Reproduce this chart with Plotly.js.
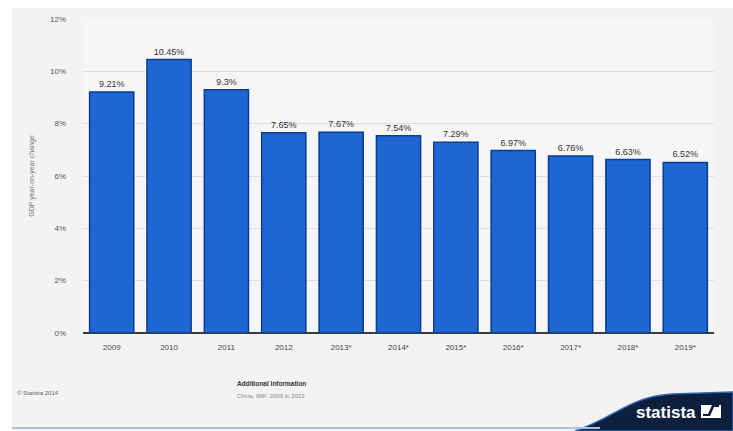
<!DOCTYPE html>
<html>
<head>
<meta charset="utf-8">
<script src="https://cdn.plot.ly/plotly-3.0.1.min.js"></script>
<style>html,body{margin:0;padding:0;background:#fff;}#chart{width:733px;height:431px;}</style>
</head>
<body>
<div id="chart"></div>
<script>
const years = ['2009','2010','2011','2012','2013*','2014*','2015*','2016*','2017*','2018*','2019*'];
const growth = [9.21, 10.45, 9.3, 7.65, 7.67, 7.54, 7.29, 6.97, 6.76, 6.63, 6.52];
const yTicks = [0, 2, 4, 6, 8, 10, 12];
const yTickText = ['0%', '2%', '4%', '6%', '8%', '10%', '12%'];

const W = 733, H = 431;
const L = 83, R = 19, T = 19, B = 98;
const pw = W - L - R, ph = H - T - B;
const px = x => (x - L) / pw;
const py = y => (H - B - y) / ph;

const swoosh = 'M ' + px(575) + ' ' + py(431) +
  ' C ' + px(615) + ' ' + py(418) + ', ' + px(628) + ' ' + py(397) + ', ' + px(672) + ' ' + py(394) +
  ' L ' + px(733) + ' ' + py(392) + ' L ' + px(733) + ' ' + py(431) + ' Z';

const trace = {
  type: 'bar',
  x: years,
  y: growth,
  text: growth.map(v => v + '%'),
  textposition: 'outside',
  cliponaxis: false,
  textfont: {family: 'Liberation Sans, Arial, sans-serif', size: 9, color: '#333'},
  marker: {color: '#1f66d2', line: {color: '#0b3c8f', width: 1.5}},
  hoverinfo: 'none'
};

const layout = {
  width: W, height: H,
  margin: {l: L, r: R, t: T, b: B},
  paper_bgcolor: '#f3f3f3',
  plot_bgcolor: '#f6f6f6',
  bargap: 0.23,
  showlegend: false,
  font: {family: 'Liberation Sans, Arial, sans-serif', color: '#444'},
  xaxis: {
    type: 'category',
    tickfont: {size: 8, color: '#444'},
    showgrid: false,
    ticks: '',
    ticklabelstandoff: 8,
    fixedrange: true
  },
  yaxis: {
    range: [0, 12],
    tickvals: yTicks,
    ticktext: yTickText,
    tickfont: {size: 8, color: '#555'},
    gridcolor: '#dedede',
    gridwidth: 1,
    zeroline: true,
    zerolinecolor: '#3a3a3a',
    zerolinewidth: 1.5,
    ticks: '',
    ticklabelstandoff: 16,
    title: {text: 'GDP year-on-year change', font: {size: 7, color: '#777'}, standoff: 14},
    fixedrange: true
  },
  shapes: [
    {type: 'rect', xref: 'paper', yref: 'paper', x0: px(0), x1: px(733), y0: py(0), y1: py(8), fillcolor: '#ffffff', line: {width: 0}, layer: 'below'},
    {type: 'rect', xref: 'paper', yref: 'paper', x0: px(0), x1: px(12), y0: py(0), y1: py(431), fillcolor: '#ffffff', line: {width: 0}, layer: 'below'},
    {type: 'path', xref: 'paper', yref: 'paper', path: swoosh, fillcolor: '#0c1f3c', line: {color: '#2f64b0', width: 1.5}},
    {type: 'line', xref: 'paper', yref: 'paper', x0: px(12), x1: px(600), y0: py(428), y1: py(428), line: {color: '#a9c3e2', width: 2}},
    {type: 'rect', xref: 'paper', yref: 'paper', x0: px(701), x1: px(721), y0: py(418), y1: py(405), fillcolor: '#ffffff', line: {width: 0}},
    {type: 'path', xref: 'paper', yref: 'paper',
     path: 'M ' + px(703) + ' ' + py(416) + ' L ' + px(710) + ' ' + py(416) + ' L ' + px(714) + ' ' + py(407) + ' L ' + px(719) + ' ' + py(407) + ' L ' + px(719) + ' ' + py(405) + ' L ' + px(712) + ' ' + py(405) + ' L ' + px(708) + ' ' + py(414) + ' L ' + px(703) + ' ' + py(414) + ' Z',
     fillcolor: '#0c1f3c', line: {width: 0}}
  ],
  annotations: [
    {xref: 'paper', yref: 'paper', x: px(15), y: py(393), xanchor: 'left', yanchor: 'middle', text: '© Statista 2014', showarrow: false, font: {size: 6, color: '#666'}},
    {xref: 'paper', yref: 'paper', x: px(235), y: py(383), xanchor: 'left', yanchor: 'middle', text: '<b>Additional Information</b>', showarrow: false, font: {size: 6.5, color: '#333'}},
    {xref: 'paper', yref: 'paper', x: px(235), y: py(396), xanchor: 'left', yanchor: 'middle', text: 'China; IMF; 2009 to 2013', showarrow: false, font: {size: 6, color: '#888'}},
    {xref: 'paper', yref: 'paper', x: px(698), y: py(412), xanchor: 'right', yanchor: 'middle', text: '<b>statista</b>', showarrow: false, font: {family: 'Liberation Sans, Arial, sans-serif', size: 17, color: '#ffffff'}}
  ]
};

Plotly.newPlot('chart', [trace], layout, {displayModeBar: false, staticPlot: true});
</script>
</body>
</html>
